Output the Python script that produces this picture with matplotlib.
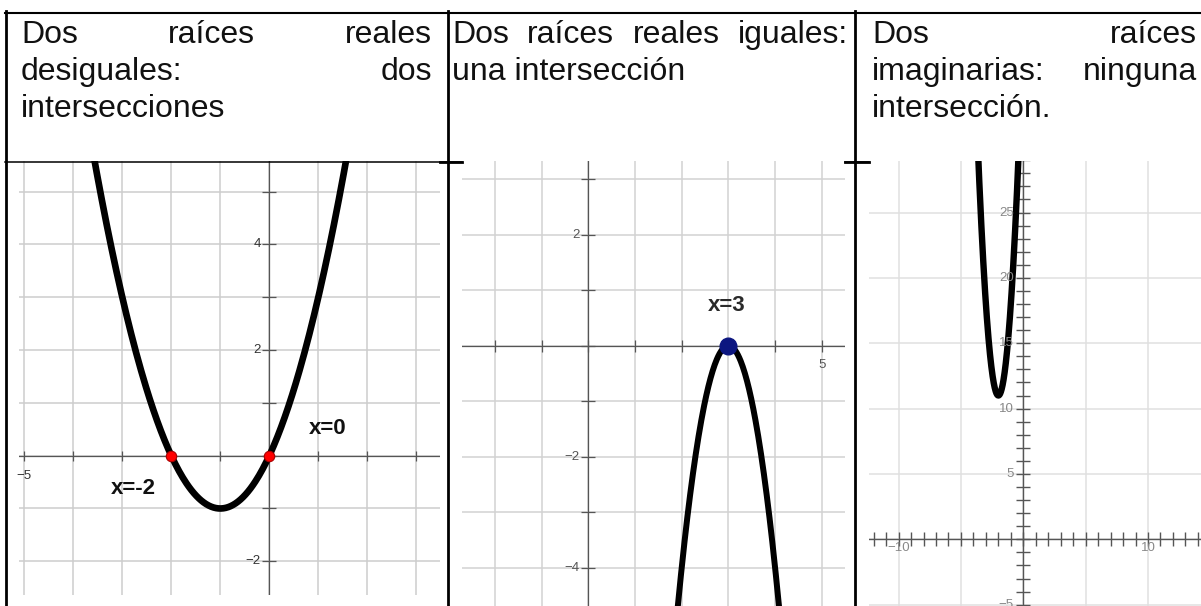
import numpy as np
import matplotlib.pyplot as plt
from matplotlib.lines import Line2D

plt.rcParams['font.family'] = ['Liberation Sans', 'DejaVu Sans']

# ---- data ----
headers = [
    [["Dos", "raíces", "reales"], ["desiguales:", "dos"], ["intersecciones"]],
    [["Dos", "raíces", "reales", "iguales:"], ["una", "intersección"]],
    [["Dos", "raíces"], ["imaginarias:", "ninguna"], ["intersección."]],
]

# parabolas y = a*(x - h)**2 + k
par_a = [1, -4, 7]
par_h = [-1, 3, -2]
par_k = [-1, 0, 11]

roots1 = [-2, 0]
root_labels1 = ["x=-2", "x=0"]
double_root2 = [3]
root_label2 = "x=3"

ylabels1 = [4, 2, -2]
xlabels1 = [-5]
ylabels2 = [2, -2, -4]
xlabels2 = [5]
ylabels3 = [25, 20, 15, 10, 5, -5]
xlabels3 = [-10, 10]

# ---- figure ----
W, H = 1201, 606
fig = plt.figure(figsize=(W / 100, H / 100), dpi=100)
fig.patch.set_facecolor('white')


def fx(px):
    return px / W


def fy(py):
    return 1 - py / H


def add_panel(x0, y0, x1, y1):
    ax = fig.add_axes([fx(x0), fy(y1), (x1 - x0) / W, (y1 - y0) / H])
    for s in ax.spines.values():
        s.set_visible(False)
    ax.tick_params(length=0, labelbottom=False, labelleft=False)
    ax.set_axisbelow(True)
    return ax


def parabola(i, x):
    return par_a[i] * (x - par_h[i]) ** 2 + par_k[i]


def fmt(v):
    return str(v).replace('-', '\u2212')


# ---- panel 1: two distinct roots ----
ax1 = add_panel(19, 161, 440, 595)
ax1.set_xticks(range(-5, 4))
ax1.set_yticks(range(-2, 6))
ax1.grid(True, color='#cdcdcd', lw=1.1)
ax1.axhline(0, color='#555555', lw=0.9, zorder=2)
ax1.axvline(0, color='#555555', lw=0.9, zorder=2)
ax1.plot(range(-5, 4), [0] * 9, ls='none', marker='|', ms=7, mew=0.9, color='#555555', zorder=2)
ax1.plot([0] * 8, range(-2, 6), ls='none', marker='_', ms=10, mew=0.9, color='#555555', zorder=2)
xs = np.linspace(-6, 4, 400)
ax1.plot(xs, parabola(0, xs), color='black', lw=4.8, zorder=3, solid_capstyle='butt')
ax1.plot(roots1, [0, 0], ls='none', marker='o', ms=7.5, mfc='#ff0000', mec='#aa0000', mew=0.8, zorder=4)
for v in ylabels1:
    ax1.text(-0.17, v, fmt(v), ha='right', va='center', fontsize=9.5, color='#333333')
for v in xlabels1:
    ax1.text(v, -0.38, fmt(v), ha='center', va='center', fontsize=9.5, color='#333333')
ax1.text(-2.78, -0.62, root_labels1[0], ha='center', va='center', fontsize=16,
         fontweight='bold', color='#111111')
ax1.text(1.2, 0.52, root_labels1[1], ha='center', va='center', fontsize=16,
         fontweight='bold', color='#111111')
ax1.set_xlim((19 - 269.3) / 49, (440 - 269.3) / 49)
ax1.set_ylim(-(595 - 455.7) / 52.8, (455.7 - 161) / 52.8)

# ---- panel 2: double root ----
ax2 = add_panel(462, 161, 845, 606)
ax2.set_xticks(range(-2, 6))
ax2.set_yticks(range(-4, 4))
ax2.grid(True, color='#d2d2d2', lw=1.1)
ax2.axhline(0, color='#555555', lw=0.9, zorder=2)
ax2.axvline(0, color='#555555', lw=0.9, zorder=2)
ax2.plot(range(-2, 6), [0] * 8, ls='none', marker='|', ms=9, mew=0.9, color='#555555', zorder=2)
ax2.plot([0] * 8, range(-4, 4), ls='none', marker='_', ms=10, mew=0.9, color='#555555', zorder=2)
xs = np.linspace(0, 6, 400)
ax2.plot(xs, parabola(1, xs), color='black', lw=4.3, zorder=3)
ax2.plot(double_root2, [0], ls='none', marker='o', ms=12, mfc='#0c1680', mec='#0c1680', zorder=4)
for v in ylabels2:
    ax2.text(-0.18, v, fmt(v), ha='right', va='center', fontsize=9.5, color='#555555')
for v in xlabels2:
    ax2.text(v, -0.35, fmt(v), ha='center', va='center', fontsize=9.5, color='#555555')
ax2.text(2.96, 0.73, root_label2, ha='center', va='center', fontsize=16,
         fontweight='bold', color='#2a2a2a')
ax2.set_xlim((462 - 588.3) / 46.7, (845 - 588.3) / 46.7)
ax2.set_ylim(-(606 - 345.7) / 55.5, (345.7 - 161) / 55.5)

# ---- panel 3: no real roots ----
ax3 = add_panel(869, 161, 1201, 606)
ax3.set_xticks(range(-10, 15, 5))
ax3.set_yticks(range(-5, 30, 5))
ax3.grid(True, color='#e0e0e0', lw=1.1)
ax3.axhline(0, color='#555555', lw=1.0, zorder=2)
ax3.axvline(0, color='#555555', lw=1.0, zorder=2)
ax3.plot(range(-12, 15), [0] * 27, ls='none', marker='|', ms=9.5, mew=1.0, color='#555555', zorder=2)
ax3.plot([0] * 35, range(-5, 30), ls='none', marker='_', ms=10, mew=1.0, color='#555555', zorder=2)
xs = np.linspace(-5, 1, 400)
ax3.plot(xs, parabola(2, xs), color='black', lw=4.6, zorder=3)
for v in ylabels3:
    ax3.text(-0.75, v, fmt(v), ha='right', va='center', fontsize=9.5, color='#888888')
for v in xlabels3:
    ax3.text(v, -0.7, fmt(v), ha='center', va='center', fontsize=9.5, color='#888888')
ax3.set_xlim((869 - 1023.3) / 12.47, (1201 - 1023.3) / 12.47)
ax3.set_ylim(-(606 - 539.3) / 13.07, (539.3 - 161) / 13.07)

# ---- table lines ----
def hline(y, x0, x1, lw):
    fig.add_artist(Line2D([fx(x0), fx(x1)], [fy(y), fy(y)], color='black', lw=lw, zorder=10))


def vline(x, y0, y1, lw):
    fig.add_artist(Line2D([fx(x), fx(x)], [fy(y0), fy(y1)], color='black', lw=lw, zorder=10))


hline(12.5, 5, 1201, 1.5)
hline(161.5, 5, 462, 1.1)
hline(161.5, 845, 869, 1.1)
hline(161.5, 440, 462, 2.0)
hline(161.5, 845, 869, 2.0)
vline(6, 11, 606, 2.0)
vline(447.5, 11, 606, 2.0)
vline(855, 11, 606, 2.0)

# ---- header text, justified like the source table ----
col_bounds = [(21, 432), (452, 848), (872, 1197)]
baselines = [43.3, 80, 116.7]
renderer = fig.canvas.get_renderer()
for words_lines, (left, right) in zip(headers, col_bounds):
    n = len(words_lines)
    for li, words in enumerate(words_lines):
        y = fy(baselines[li])
        last = li == n - 1
        if last or len(words) == 1:
            fig.text(fx(left), y, " ".join(words), ha='left', va='baseline',
                     fontsize=23, color='#111111')
            continue
        objs = [fig.text(0, y, w, ha='left', va='baseline', fontsize=23, color='#111111')
                for w in words]
        widths = [o.get_window_extent(renderer).width for o in objs]
        gap = (right - left - sum(widths)) / (len(words) - 1)
        x = left
        for o, wd in zip(objs, widths):
            o.set_x(fx(x))
            x += wd + gap

fig.savefig('out.png', dpi=100, facecolor='white')
